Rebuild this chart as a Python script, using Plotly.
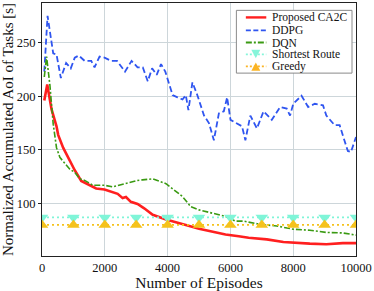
import plotly.graph_objects as go

# ---- data ----
ca2c_x = [73, 167, 303, 462, 515, 673, 885, 1043, 1250, 1463, 1725, 1990, 2200, 2410, 2568, 2674,
          2830, 3043, 3254, 3526, 3949, 4158, 4580, 5000, 5420, 5845, 6265, 6581, 7160, 7687,
          8530, 9055, 9580, 10000]
ca2c_y = [196, 211, 188, 172, 164, 152, 140, 131, 121, 118, 114, 113, 111, 109, 105, 106,
          101.5, 99.5, 95.5, 89.5, 85, 83.5, 80, 76.5, 73.5, 71, 69.5, 68, 66.5, 64,
          62.5, 62, 63, 63]

ddpg_x = [73, 177, 357, 462, 600, 768, 916, 1043, 1169, 1359, 1568, 1674, 1833, 1990, 2200, 2390,
          2643, 2853, 3043, 3210, 3368, 3506, 3653, 3790, 3927, 4160, 4316, 4474, 4580, 4663,
          4790, 4948, 5160, 5316, 5474, 5633, 5790, 5896, 6003, 6212, 6370, 6477, 6635, 6845,
          7056, 7318, 7583, 7793, 7900, 8003, 8265, 8476, 8690, 8950, 9055, 9320, 9480, 9640,
          9740, 9840, 10000]
ddpg_y = [223, 275, 240, 239, 217, 231, 226, 236, 238, 233, 233, 227, 237, 236, 233, 233,
          223, 233, 227, 227, 214, 226, 220, 230, 223, 201, 199, 197, 201, 187,
          213, 201, 182, 175, 159, 184, 186, 199, 178, 175, 172, 159, 182, 170,
          186, 178, 190, 188.5, 182, 193, 200.5, 190, 193, 191.5, 182, 173, 173, 158,
          149, 148, 162]

dqn_x = [73, 146, 253, 357, 462, 568, 885, 1043, 1200, 1359, 1620, 1990, 2253, 2622, 2780, 3043,
         3200, 3526, 3949, 4158, 4474, 4738, 5000, 5420, 5845, 6160, 6423, 6950, 7475, 8000,
         8530, 9055, 9580, 10000]
dqn_y = [218, 237, 210, 174, 152, 143, 132, 129, 123, 121.5, 117, 117, 115.5, 118.5, 120, 121.5,
         122, 123, 118.5, 114, 106.5, 97, 94, 91, 88, 83.5, 83.5, 80.5, 79, 76,
         75, 73, 72.5, 70.5]

episodes_mk = [0, 1000, 2000, 3000, 4000, 5000, 6000, 7000, 8000, 9000, 10000]
shortest_y = [87, 87, 87, 87, 87, 87, 87, 87, 87, 87, 87]
greedy_y = [80, 80, 80, 80, 80, 80, 80, 80, 80, 80, 80]

x_ticks = [0, 2000, 4000, 6000, 8000, 10000]
x_tick_text = ["0", "2000", "4000", "6000", "8000", "10000"]
y_ticks = [100, 150, 200, 250]
y_tick_text = ["100", "150", "200", "250"]

series_names = ["Proposed CA2C", "DDPG", "DQN", "Shortest Route", "Greedy"]

FONT = "Liberation Serif"
RED, BLUE, GREEN, AQUA, GOLD = "#ff1f1f", "#2f55f0", "#3a9a12", "#7ff5d8", "#f5c21c"

# plot-area geometry (pixels)
W, H = 374, 291
L, R, T, B = 42, 17, 2, 31


def pxx(p):
    return (p - L) / (W - L - R)


def pxy(p):
    return (H - B - p) / (H - T - B)


fig = go.Figure()
fig.add_trace(go.Scatter(x=ca2c_x, y=ca2c_y, mode="lines", name=series_names[0],
                         line=dict(color=RED, width=2.6)))
fig.add_trace(go.Scatter(x=ddpg_x, y=ddpg_y, mode="lines", name=series_names[1],
                         line=dict(color=BLUE, width=1.8, dash="6px,3px")))
fig.add_trace(go.Scatter(x=dqn_x, y=dqn_y, mode="lines", name=series_names[2],
                         line=dict(color=GREEN, width=1.6, dash="6px,2px,2px,2px")))
fig.add_trace(go.Scatter(x=episodes_mk, y=shortest_y, mode="lines+markers", name=series_names[3],
                         line=dict(color=AQUA, width=1.8, dash="2px,3px"),
                         marker=dict(symbol="triangle-down", size=11, color=AQUA)))
fig.add_trace(go.Scatter(x=episodes_mk, y=greedy_y, mode="lines+markers", name=series_names[4],
                         line=dict(color=GOLD, width=1.8, dash="2px,3px"),
                         marker=dict(symbol="triangle-up", size=11, color=GOLD)))

# ---- compact legend drawn as shapes + text ----
shapes = [dict(type="rect", xref="paper", yref="paper",
               x0=pxx(237), x1=pxx(353), y0=pxy(73.5), y1=pxy(9.5),
               line=dict(color="#8a8a8a", width=1), fillcolor="white", layer="above")]
annotations = []
rows = [16.7, 30, 42.3, 54.3, 66.7]
styles = [(RED, 2.4, "solid"), (BLUE, 1.8, "5px,2.5px"), (GREEN, 1.8, "6px,2px,2px,2px"),
          ("#86f5da", 1.8, "2px,2px"), ("#fbb424", 1.8, "2px,2px")]
for i, (name, yrow, st) in enumerate(zip(series_names, rows, styles)):
    shapes.append(dict(type="line", xref="paper", yref="paper",
                       x0=pxx(246.5), x1=pxx(267), y0=pxy(yrow), y1=pxy(yrow),
                       line=dict(color=st[0], width=st[1], dash=st[2]), layer="above"))
    annotations.append(dict(xref="paper", yref="paper", x=pxx(272), y=pxy(yrow),
                            text=name, showarrow=False, xanchor="left", yanchor="middle",
                            font=dict(family=FONT, size=11.5, color="#111"), borderpad=0))
# legend triangles
cx = 256.5
yr = rows[3]
shapes.append(dict(type="path", xref="paper", yref="paper", layer="above",
                   path=f"M {pxx(cx-4.5)},{pxy(yr-4.5)} L {pxx(cx+4.5)},{pxy(yr-4.5)} L {pxx(cx)},{pxy(yr+4)} Z",
                   fillcolor="#86f5da", line=dict(width=0)))
yr = rows[4]
shapes.append(dict(type="path", xref="paper", yref="paper", layer="above",
                   path=f"M {pxx(cx-4.5)},{pxy(yr+4.5)} L {pxx(cx+4.5)},{pxy(yr+4.5)} L {pxx(cx)},{pxy(yr-4)} Z",
                   fillcolor="#fbb424", line=dict(width=0)))

axis_common = dict(showline=True, linecolor="#222", linewidth=1, mirror=True,
                   showgrid=True, gridcolor="#cdd6da", gridwidth=1.3, zeroline=False,
                   tickfont=dict(family=FONT, size=12.5, color="#111"))

fig.update_layout(
    width=W, height=H,
    margin=dict(l=L, r=R, t=T, b=B),
    paper_bgcolor="white", plot_bgcolor="white",
    font=dict(family=FONT, color="#111"),
    showlegend=False,
    shapes=shapes, annotations=annotations,
)
fig.update_xaxes(range=[0, 10000], tickvals=x_ticks, ticktext=x_tick_text, ticks="",
                 title=dict(text="Number of Episodes", font=dict(family=FONT, size=15.5), standoff=3),
                 **axis_common)
fig.update_yaxes(range=[51, 287], tickvals=y_ticks, ticktext=y_tick_text,
                 ticks="outside", ticklen=3, tickcolor="#222",
                 title=dict(text="Normalized Accumulated AoI of Tasks [s]", font=dict(family=FONT, size=15), standoff=2),
                 **axis_common)

fig.write_html("out.html", config={"displayModeBar": False},
               post_script="document.body.style.margin='0';document.body.style.overflow='hidden';")
